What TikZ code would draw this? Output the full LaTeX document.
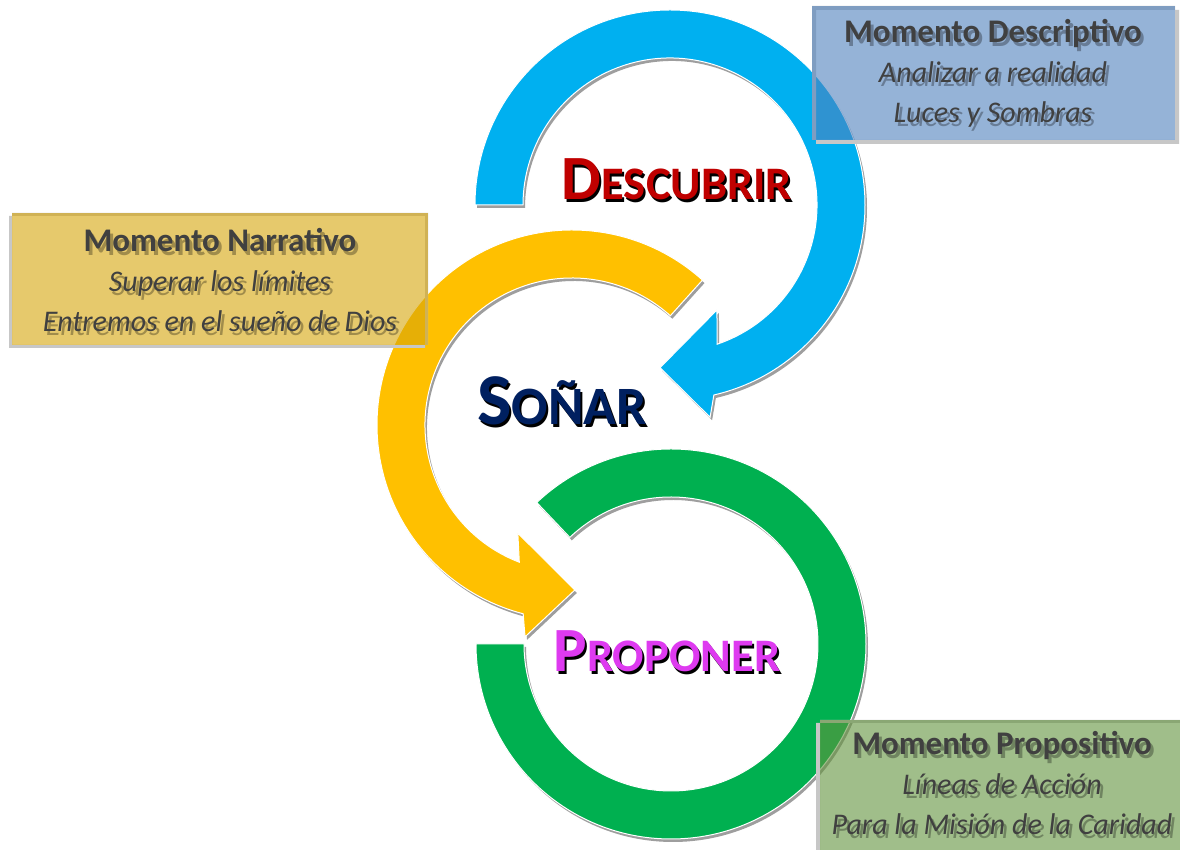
\documentclass[tikz,border=0pt]{standalone}
\usepackage{fontspec}
\setmainfont{Carlito}
\usepackage{tikz}
\definecolor{ringblue}{RGB}{0,176,240}
\definecolor{ringyellow}{RGB}{255,192,0}
\definecolor{ringgreen}{RGB}{0,176,80}
\definecolor{boxblue}{RGB}{79,129,189}
\definecolor{boxgold}{RGB}{214,165,10}
\definecolor{boxgreen}{RGB}{98,147,61}
\definecolor{wordred}{RGB}{192,0,0}
\definecolor{wordnavy}{RGB}{0,32,96}
\definecolor{wordpink}{RGB}{222,58,240}
\definecolor{notegray}{RGB}{64,64,64}
\tikzset{
    ring/.style={
        fill=#1, draw=white, line width=0.5pt,
        preaction={fill=black!38, draw=none, transform canvas={xshift=1pt, yshift=-1.5pt}}
    },
    note box/.style={fill=#1, fill opacity=0.6},
    note shadow/.style={fill=black!22, even odd rule},
    note text/.style={text=notegray, align=center, font=\fontsize{15}{20}\selectfont},
    note text shadow/.style={note text, text=black, text opacity=0.3},
    word/.style={anchor=base, text=#1},
    word shadow/.style={anchor=base, text=black},
}
\newcommand{\notetitle}[1]{{\fontsize{16.5}{20}\selectfont\bfseries #1}}
\newcommand{\descriptivotext}{\notetitle{Momento Descriptivo}\\{\itshape Analizar a realidad}\\{\itshape Luces y Sombras}}
\newcommand{\narrativotext}{\notetitle{Momento Narrativo}\\{\itshape Superar los límites}\\{\itshape Entremos en el sueño de Dios}}
\newcommand{\propositivotext}{\notetitle{Momento Propositivo}\\{\itshape Líneas de Acción}\\{\itshape Para la Misión de la Caridad}}
\newcommand{\bigsmall}[4]{\bfseries\fontsize{#1}{#1}\selectfont #3\fontsize{#2}{#2}\selectfont #4}

\begin{document}
\begin{tikzpicture}[x=0.5pt, y=0.5pt]
\clip (0,0) rectangle (1180,850);
\fill[white] (0,0) rectangle (1180,850);

%green ring
\begin{scope}[shift={(671,206)}]
\fill[ring=ringgreen] (180:195) arc[start angle=180, end angle=493.5, radius=195]
    -- (493.5:147) arc[start angle=493.5, end angle=180, radius=147] -- cycle;
\end{scope}

%yellow ring with arrow
\begin{scope}[shift={(572,425)}]
\fill[ring=ringyellow] (48:195) arc[start angle=48, end angle=255.5, radius=195]
    -- (257.5:217) -- (271:165) -- (243.4:121)
    -- (249:147) arc[start angle=249, end angle=48, radius=147] -- cycle;
\end{scope}

%blue ring with arrow
\begin{scope}[shift={(670,645)}]
\fill[ring=ringblue] (180:195) arc[start angle=180, end angle=-77, radius=195]
    -- (-79.3:216) -- (-93.5:163) -- (-65.9:115)
    -- (-71.3:147) arc[start angle=-71.3, end angle=180, radius=147] -- cycle;
\end{scope}

%boxes
\fill[note shadow] (816,706) rectangle (1179,840) (812,710) rectangle (1175,844);
\fill[note box=boxblue] (812,710) rectangle (1175,844);
\fill[note shadow] (9,502) rectangle (425,634) (12,505) rectangle (428,637);
\fill[note box=boxgold] (12,505) rectangle (428,637);
\fill[note shadow] (816,-5) rectangle (1181,127) (820,-5) rectangle (1185,130);
\fill[note box=boxgreen] (820,-5) rectangle (1185,130);

%box texts
\node[note text shadow] (descriptivo shadow) at (996,773) {\descriptivotext};
\node[note text] (descriptivo) at (993,777) {\descriptivotext};
\node[note text shadow] (narrativo shadow) at (223,566) {\narrativotext};
\node[note text] (narrativo) at (220,570) {\narrativotext};
\node[note text shadow] (propositivo shadow) at (1005,63) {\propositivotext};
\node[note text] (propositivo) at (1002,67) {\propositivotext};

%words
\node[word shadow] (descubrir shadow) at (679,647) {\bigsmall{31.5}{23.3}{D}{ESCUBRIR}};
\node[word=wordred] (descubrir) at (677,650) {\bigsmall{31.5}{23.3}{D}{ESCUBRIR}};
\node[word shadow] (sonar shadow) at (564,422) {\bigsmall{36.5}{27}{S}{OÑAR}};
\node[word=wordnavy] (sonar) at (562,425) {\bigsmall{36.5}{27}{S}{OÑAR}};
\node[word shadow] (proponer shadow) at (669,175) {\bigsmall{31.5}{23.3}{P}{ROPONER}};
\node[word=wordpink] (proponer) at (667,178) {\bigsmall{31.5}{23.3}{P}{ROPONER}};
\end{tikzpicture}
\end{document}
